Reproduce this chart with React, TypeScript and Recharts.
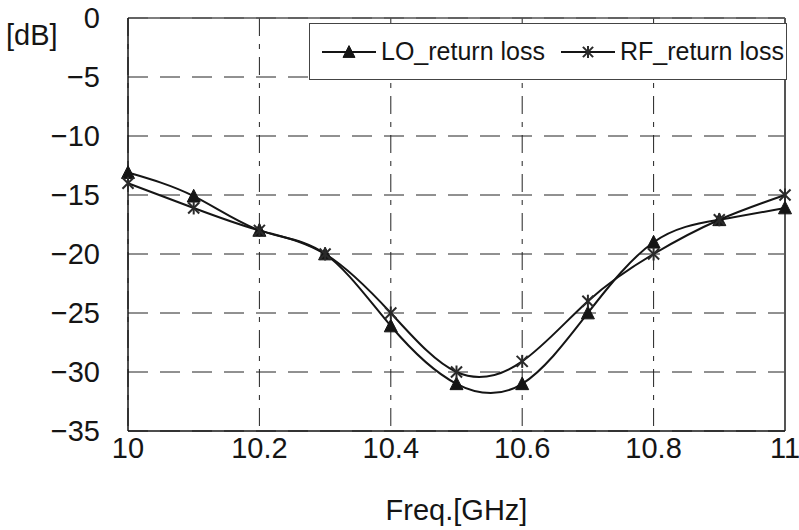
import React from "react";
import {
  CartesianGrid,
  Legend,
  Line,
  LineChart,
  ReferenceLine,
  XAxis,
  YAxis,
} from "recharts";

// frequency points in GHz, 0.1 step
const freqs = [10, 10.1, 10.2, 10.3, 10.4, 10.5, 10.6, 10.7, 10.8, 10.9, 11];
// return loss in dB
const loReturnLoss = [-13.1, -15.1, -18, -20, -26.1, -31, -31, -25, -19, -17.1, -16.1];
const rfReturnLoss = [-14, -16.1, -18, -20, -25, -30, -29.1, -24, -20, -17.1, -15];

const xTicks = [10, 10.2, 10.4, 10.6, 10.8, 11];
const yTicks = [0, -5, -10, -15, -20, -25, -30, -35];

const data = freqs.map((f, i) => ({ f, lo: loReturnLoss[i], rf: rfReturnLoss[i] }));

const FONT = "'Liberation Sans', Arial, sans-serif";
const INK = "#151515";

function Triangle({ cx, cy, size = 13 }: { cx: number; cy: number; size?: number }) {
  const h = size * 0.9;
  const pts = `${cx},${cy - h / 2 - 1} ${cx - size / 2},${cy + h / 2} ${cx + size / 2},${cy + h / 2}`;
  return <polygon points={pts} fill={INK} stroke={INK} strokeWidth={1} />;
}

function Star({ cx, cy, size = 13 }: { cx: number; cy: number; size?: number }) {
  const r = size / 2;
  const d = r * 0.85;
  return (
    <g stroke="#2a2a2a" strokeWidth={2}>
      <line x1={cx - d} y1={cy - d} x2={cx + d} y2={cy + d} />
      <line x1={cx - d} y1={cy + d} x2={cx + d} y2={cy - d} />
      <line x1={cx} y1={cy - r} x2={cx} y2={cy + r} />
    </g>
  );
}

function LegendBox() {
  const item = (kind: "tri" | "star", label: string) => (
    <div style={{ display: "flex", alignItems: "center", whiteSpace: "nowrap" }}>
      <svg width={54} height={20} style={{ marginRight: 5 }}>
        <line x1={0} y1={10} x2={54} y2={10} stroke={INK} strokeWidth={2} />
        {kind === "tri" ? <Triangle cx={27} cy={10} size={12} /> : <Star cx={27} cy={10} size={12} />}
      </svg>
      <span>{label}</span>
    </div>
  );
  return (
    <div
      style={{
        boxSizing: "border-box",
        width: 478,
        height: 57,
        border: "1.5px solid #444",
        background: "#fff",
        display: "flex",
        alignItems: "center",
        paddingLeft: 12,
        fontFamily: FONT,
        fontSize: 25,
        color: INK,
        whiteSpace: "nowrap",
      }}
    >
      {item("tri", "LO_return loss")}
      <div style={{ width: 16 }} />
      {item("star", "RF_return loss")}
    </div>
  );
}

const fmtY = (v: number) => (v < 0 ? `\u2212${-v}` : `${v}`);

export default function App() {
  return (
    <div style={{ position: "absolute", left: 0, top: 0, background: "#fff" }}>
      <LineChart
        width={799}
        height={530}
        data={data}
        margin={{ top: 18, right: 14, bottom: 0, left: 0 }}
      >
        <CartesianGrid vertical={false} stroke="#222" strokeDasharray="20 12" />
        <CartesianGrid horizontal={false} stroke="#222" strokeDasharray="18 8 5 8" />
        <XAxis
          dataKey="f"
          type="number"
          domain={[10, 11]}
          ticks={xTicks}
          height={99}
          tickLine={false}
          tickSize={0}
          tickMargin={6}
          axisLine={{ stroke: INK, strokeWidth: 1.5 }}
          tick={{ fill: INK, fontSize: 29, fontFamily: FONT }}
          label={{
            value: "Freq.[GHz]",
            position: "insideBottom",
            offset: 10,
            fill: INK,
            fontSize: 29,
            fontFamily: FONT,
          }}
        />
        <YAxis
          type="number"
          domain={[-35, 0]}
          ticks={yTicks}
          width={128}
          tickLine={false}
          tickSize={0}
          tickMargin={28}
          tickFormatter={fmtY}
          axisLine={{ stroke: INK, strokeWidth: 1.5 }}
          tick={{ fill: INK, fontSize: 29, fontFamily: FONT }}
          label={{
            value: "[dB]",
            position: "insideTopLeft",
            offset: 6,
            fill: INK,
            fontSize: 29,
            fontFamily: FONT,
          }}
        />
        <ReferenceLine y={0} stroke="#555" strokeWidth={1.5} />
        <ReferenceLine x={11} stroke="#555" strokeWidth={2} />
        <Legend
          layout="horizontal"
          verticalAlign="middle"
          align="center"
          content={() => <LegendBox />}
          wrapperStyle={{ position: "absolute", left: 309, top: 23, width: 478, height: 57 }}
        />
        <Line
          dataKey="lo"
          type="natural"
          stroke={INK}
          strokeWidth={2}
          isAnimationActive={false}
          dot={(p: any) => <Triangle key={`lo-${p.index}`} cx={p.cx} cy={p.cy} />}
        />
        <Line
          dataKey="rf"
          type="natural"
          stroke={INK}
          strokeWidth={2}
          isAnimationActive={false}
          dot={(p: any) => <Star key={`rf-${p.index}`} cx={p.cx} cy={p.cy} />}
        />
      </LineChart>
    </div>
  );
}
